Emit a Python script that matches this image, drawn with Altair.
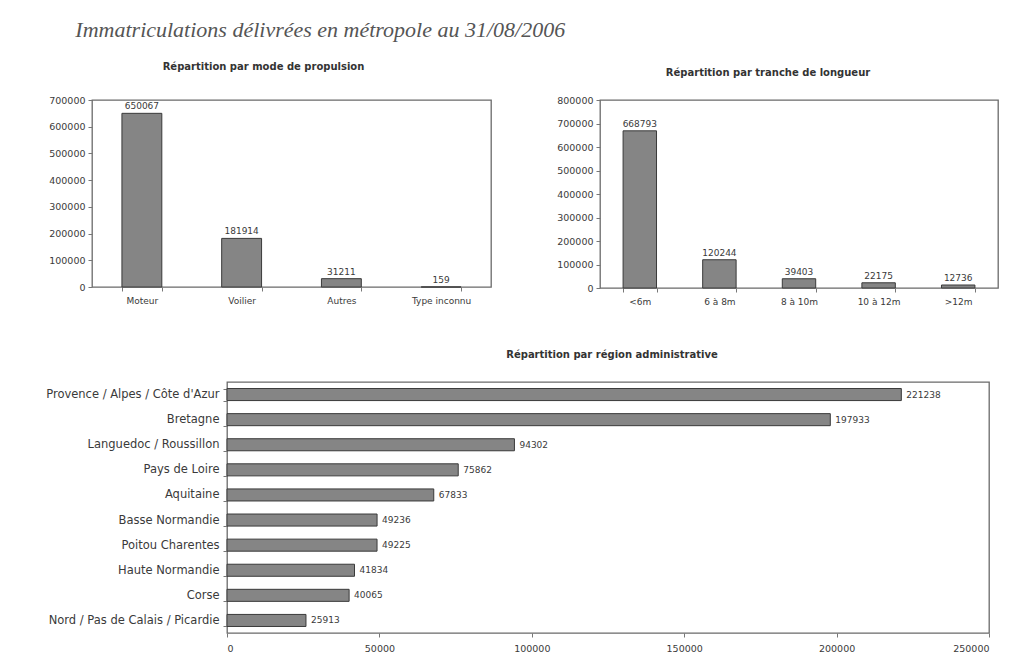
import altair as alt
import pandas as pd

propulsion_categories = ["Moteur", "Voilier", "Autres", "Type inconnu"]
propulsion_values = [650067, 181914, 31211, 159]

length_categories = ["<6m", "6 à 8m", "8 à 10m", "10 à 12m", ">12m"]
length_values = [668793, 120244, 39403, 22175, 12736]

region_names = [
    "Provence / Alpes / Côte d'Azur",
    "Bretagne",
    "Languedoc / Roussillon",
    "Pays de Loire",
    "Aquitaine",
    "Basse Normandie",
    "Poitou Charentes",
    "Haute Normandie",
    "Corse",
    "Nord / Pas de Calais / Picardie",
]
region_values = [221238, 197933, 94302, 75862, 67833, 49236, 49225, 41834, 40065, 25913]

FONT = "DejaVu Sans"
BAR_FILL = "#858585"
BAR_STROKE = "#3a3a3a"
TXT = "#3a3a3a"
TICK = "#777777"


def vbar(cats, vals, title, ymax, width, height, extent, pad_inner, title_dx, title_off):
    df = pd.DataFrame({"cat": cats, "val": vals})
    base = alt.Chart(df).encode(
        x=alt.X(
            "cat:N",
            sort=cats,
            title=None,
            scale=alt.Scale(paddingInner=pad_inner, paddingOuter=pad_inner / 2),
            axis=alt.Axis(
                labelAngle=0, tickBand="extent", domain=False, tickSize=4,
                tickColor=TICK, labelFont=FONT, labelFontSize=9,
                labelColor=TXT, labelPadding=5,
            ),
        ),
        y=alt.Y(
            "val:Q",
            title=None,
            scale=alt.Scale(domain=[0, ymax], nice=False),
            axis=alt.Axis(
                values=list(range(0, ymax + 1, 100000)), format="d", grid=False,
                domain=False, tickSize=4, tickColor=TICK, labelFont=FONT,
                labelFontSize=9.5, labelColor=TXT, labelPadding=3,
                minExtent=extent, maxExtent=extent,
            ),
        ),
    )
    bars = base.mark_bar(fill=BAR_FILL, stroke=BAR_STROKE, strokeWidth=1)
    text = base.mark_text(dy=-7, font=FONT, fontSize=9, color=TXT).encode(
        text=alt.Text("val:Q", format="d")
    )
    return (bars + text).properties(
        width=width,
        height=height,
        title=alt.TitleParams(
            title, font=FONT, fontSize=10, fontWeight="bold", color="#333",
            offset=title_off, dx=title_dx, anchor="middle", frame="group",
        ),
    )


chart_a = vbar(propulsion_categories, propulsion_values,
               "Répartition par mode de propulsion", 700000, 399, 187, 81, 0.6, -28, 23)
chart_b = vbar(length_categories, length_values,
               "Répartition par tranche de longueur", 800000, 398, 188, 60, 0.58, -31, 17)

df_r = pd.DataFrame({"region": region_names, "val": region_values})
base_r = alt.Chart(df_r).encode(
    y=alt.Y(
        "region:N",
        sort=region_names,
        title=None,
        scale=alt.Scale(paddingInner=0.52, paddingOuter=0.26),
        axis=alt.Axis(
            tickBand="extent", domain=False, tickSize=4, tickColor=TICK,
            labelFont=FONT, labelFontSize=11.5, labelColor=TXT, labelPadding=4,
            labelLimit=300,
        ),
    ),
    x=alt.X(
        "val:Q",
        title=None,
        scale=alt.Scale(domain=[0, 250000], nice=False),
        axis=alt.Axis(
            values=list(range(0, 250001, 50000)), format="d", grid=False,
            domain=False, tickSize=4, tickColor=TICK, labelFont=FONT,
            labelFontSize=9.5, labelColor=TXT, labelPadding=6,
        ),
    ),
)
bars_r = base_r.mark_bar(fill=BAR_FILL, stroke=BAR_STROKE, strokeWidth=1)
text_r = base_r.mark_text(align="left", dx=5, font=FONT, fontSize=9, color=TXT).encode(
    text=alt.Text("val:Q", format="d")
)
chart_c = (bars_r + text_r).properties(
    width=762,
    height=251,
    title=alt.TitleParams(
        "Répartition par région administrative", font=FONT, fontSize=10,
        fontWeight="bold", color="#333", offset=16, dx=4, anchor="middle",
        frame="group",
    ),
)

spacer = alt.Chart(pd.DataFrame({"s": [0]})).mark_point(opacity=0, size=1).properties(
    width=135, height=1, view=alt.ViewBackground(stroke="transparent")
)

top = alt.hconcat(chart_a, chart_b, spacing=47)
bottom = alt.hconcat(spacer, chart_c, spacing=0, bounds="flush")
chart = alt.vconcat(
    top, bottom, spacing=42,
    title=alt.TitleParams(
        "Immatriculations délivrées en métropole au 31/08/2006",
        font="Liberation Serif", fontSize=22, fontStyle="italic",
        fontWeight="normal", color="#555", anchor="start", dx=65, offset=19,
    ),
).properties(
    padding={"left": 10, "top": 19, "right": 10, "bottom": 3},
    background="white",
).configure_view(
    stroke="#6a6a6a", strokeWidth=1.3
)

chart.save("out.html", embed_options={"renderer": "svg", "actions": False})
